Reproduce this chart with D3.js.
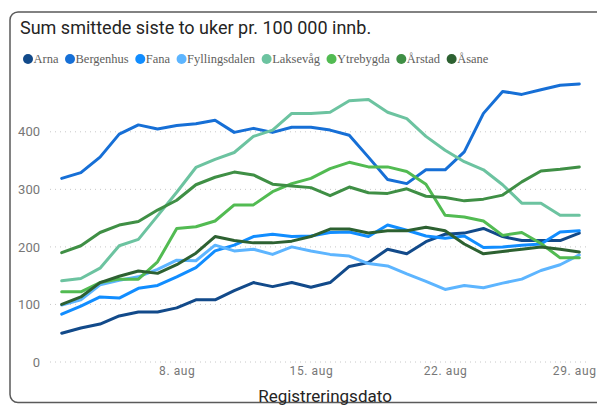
<html>
	<head>
		<meta content="text/html;charset=utf-8" http-equiv="Content-Type">
		<script src="https://d3js.org/d3.v7.min.js"></script>
		<style>
			body { margin: 0; background: #fff; }
		</style>
	</head>
	<body>
		<div id="stuff">
			<svg width="597" height="405"></svg>
		</div>
		<script>

	// days 2. aug to 29. aug
	var dates = ["2020-08-02","2020-08-03","2020-08-04","2020-08-05","2020-08-06","2020-08-07","2020-08-08",
		"2020-08-09","2020-08-10","2020-08-11","2020-08-12","2020-08-13","2020-08-14","2020-08-15",
		"2020-08-16","2020-08-17","2020-08-18","2020-08-19","2020-08-20","2020-08-21","2020-08-22",
		"2020-08-23","2020-08-24","2020-08-25","2020-08-26","2020-08-27","2020-08-28","2020-08-29"];

	var districts = ["Arna","Bergenhus","Fana","Fyllingsdalen","Laksevåg","Ytrebygda","Årstad","Åsane"];
	var colors = ["#124a8a","#166fd6","#118dff","#5db5ff","#6cc3a0","#52bb52","#3f8f45","#2d6131"];

	var arna          = [50,59,66,80,87,87,94,108,108,124,138,131,138,130,138,166,173,196,188,209,222,224,232,218,211,211,211,224];
	var bergenhus     = [319,329,356,396,412,405,411,414,420,399,406,399,408,408,403,394,356,317,310,334,334,365,432,470,465,473,481,483];
	var fana          = [83,97,113,111,128,133,148,164,193,203,218,222,218,219,225,226,218,238,229,219,215,219,199,200,203,205,226,228];
	var fyllingsdalen = [99,108,134,142,148,161,177,176,203,193,196,187,200,193,187,184,171,167,153,140,126,133,129,137,144,159,169,186];
	var laksevag      = [141,145,163,202,213,254,295,338,352,364,392,403,432,432,434,454,456,434,423,392,368,348,334,308,276,276,255,255];
	var ytrebygda     = [122,122,138,144,144,174,232,235,245,273,273,296,310,319,336,347,339,339,331,309,255,252,245,220,225,206,181,181];
	var arstad        = [190,202,225,238,244,264,281,308,321,330,325,309,306,303,289,304,294,293,301,288,286,280,283,290,313,332,335,339];
	var asane         = [100,113,138,149,158,154,169,189,218,211,207,207,210,218,231,231,224,228,228,234,228,205,188,192,196,200,196,191];

	var seriesValues = [arna, bergenhus, fana, fyllingsdalen, laksevag, ytrebygda, arstad, asane];

	var yTicks = [0,100,200,300,400];
	var xTickDates = ["2020-08-08","2020-08-15","2020-08-22","2020-08-29"];
	var xTickLabels = ["8. aug","15. aug","22. aug","29. aug"];

	var titleText = "Sum smittede siste to uker pr. 100 000 innb.";
	var xTitle = "Registreringsdato";

	var svg = d3.select("#stuff").select("svg");
	var parse = d3.timeParse("%Y-%m-%d");

	// card border
	svg.append("rect")
		.attr("x", 10)
		.attr("y", 12)
		.attr("width", 620)
		.attr("height", 390.5)
		.attr("rx", 8)
		.attr("ry", 8)
		.attr("fill", "none")
		.attr("stroke", "#5a5a5a")
		.attr("stroke-width", 1.5);

	// title
	svg.append("text")
		.attr("x", 20)
		.attr("y", 34)
		.attr("font-family", "Roboto, 'Noto Sans', sans-serif")
		.style("font-size", "18px")
		.attr("fill", "#252423")
		.text(titleText);

	// legend
	var legendX = 28;
	districts.forEach(function(name, i){
		var g = svg.append("g");
		g.append("circle")
			.attr("cx", legendX)
			.attr("cy", 59)
			.attr("r", 5)
			.attr("fill", colors[i]);
		var t = g.append("text")
			.attr("x", legendX + 5.5)
			.attr("y", 63)
			.attr("font-family", "'Liberation Serif', 'DejaVu Serif', serif")
			.style("font-size", "12.5px")
			.attr("fill", "#605e5c")
			.text(name);
		legendX = legendX + 5.5 + t.node().getComputedTextLength() + 11.5;
	});

	var x = d3.scaleTime()
		.domain([parse(dates[0]), parse(dates[dates.length - 1])])
		.range([61.7, 579.3]);

	var y = d3.scaleLinear()
		.domain([0, 400])
		.range([362, 131.8]);

	// gridlines
	svg.append("g")
		.selectAll("line")
		.data(yTicks)
		.enter()
		.append("line")
		.attr("x1", 50)
		.attr("x2", 590)
		.attr("y1", function(d){ return y(d); })
		.attr("y2", function(d){ return y(d); })
		.attr("stroke", "#c8c8c8")
		.attr("stroke-width", 1)
		.style("stroke-dasharray", "1, 4");

	// y axis labels
	var yAxis = d3.axisLeft(y).tickValues(yTicks).tickSize(0).tickPadding(0);
	var yg = svg.append("g")
		.attr("transform", "translate(40,0)")
		.call(yAxis);
	yg.select(".domain").remove();
	yg.selectAll("text")
		.attr("font-family", "Roboto, 'Noto Sans', sans-serif")
		.style("font-size", "13px")
		.attr("fill", "#777777");

	// x axis labels
	var xAxis = d3.axisBottom(x)
		.tickValues(xTickDates.map(parse))
		.tickFormat(function(d, i){ return xTickLabels[i]; })
		.tickSize(0)
		.tickPadding(0);
	var xg = svg.append("g")
		.attr("transform", "translate(0,366)")
		.call(xAxis);
	xg.select(".domain").remove();
	xg.selectAll("text")
		.attr("font-family", "Roboto, 'Noto Sans', sans-serif")
		.style("font-size", "12px")
		.style("letter-spacing", "0.6px")
		.attr("fill", "#777777");
	// keep the last label inside the window
	xg.selectAll(".tick").filter(function(d, i){ return i === xTickLabels.length - 1; })
		.select("text")
		.attr("text-anchor", "end")
		.attr("x", 596 - x(parse(xTickDates[xTickDates.length - 1])));

	// x axis title
	svg.append("text")
		.attr("x", 325)
		.attr("y", 401.5)
		.attr("font-family", "Roboto, 'Noto Sans', sans-serif")
		.style("font-size", "17px")
		.style("text-anchor", "middle")
		.attr("fill", "#252423")
		.text(xTitle);

	// lines
	var line = d3.line()
		.x(function(d, i){ return x(parse(dates[i])); })
		.y(function(d){ return y(d); });

	seriesValues.forEach(function(values, i){
		svg.append("path")
			.datum(values)
			.attr("d", line)
			.attr("fill", "none")
			.attr("stroke", colors[i])
			.attr("stroke-width", 3)
			.attr("stroke-linejoin", "round")
			.attr("stroke-linecap", "round");
	});

		</script>
	</body>
</html>
